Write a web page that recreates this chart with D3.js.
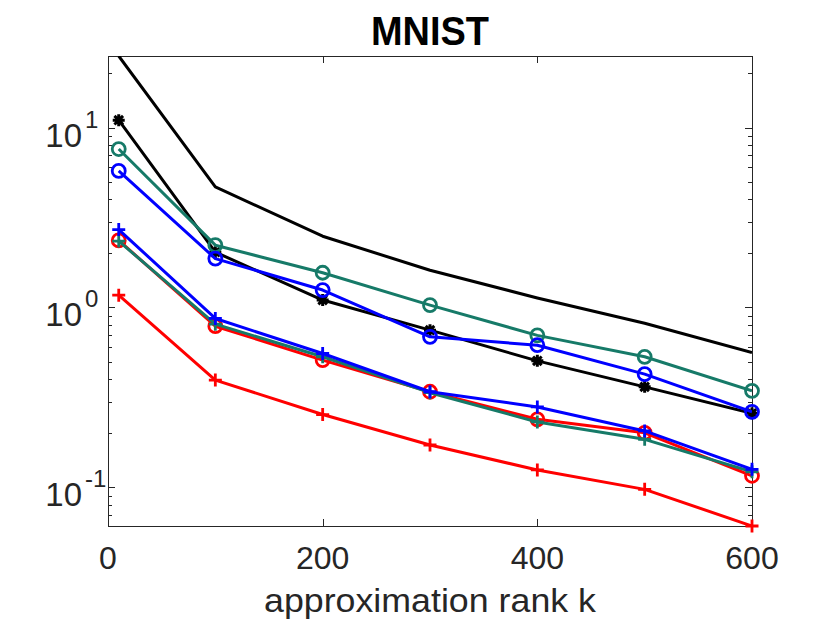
<!DOCTYPE html>
<html>
<head>
<meta charset="utf-8">
<script src="https://cdn.jsdelivr.net/npm/d3@7"></script>
<style>
  body { margin: 0; background: #fff; }
  svg { font-family: "Liberation Sans", Arial, Helvetica, sans-serif; }
</style>
</head>
<body>
<div id="chart_area"></div>
<script>
// data
var ranks = [10, 100, 200, 300, 400, 500, 600];
var xTicks = [0, 200, 400, 600];
var yTicks = [0.1, 1, 10];
var yTickExp = ["-1", "0", "1"];

var blackTop   = [25.0, 4.68, 2.49, 1.61, 1.13, 0.818, 0.562];
var blackStar  = [11.0, 2.03, 1.10, 0.748, 0.505, 0.362, 0.258];
var tealCircle = [7.60, 2.22, 1.56, 1.03, 0.70, 0.532, 0.344];
var blueCircle = [5.74, 1.87, 1.25, 0.687, 0.617, 0.426, 0.263];
var redCircle  = [2.36, 0.787, 0.51, 0.34, 0.239, 0.201, 0.116];
var tealPlus   = [2.34, 0.808, 0.532, 0.336, 0.231, 0.185, 0.122];
var bluePlus   = [2.71, 0.869, 0.555, 0.340, 0.280, 0.206, 0.126];
var redPlus    = [1.17, 0.395, 0.254, 0.172, 0.125, 0.0975, 0.061];

var series = [
  {values: blackTop,   color: "#000000", marker: "none"},
  {values: blackStar,  color: "#000000", marker: "star"},
  {values: tealCircle, color: "#167a68", marker: "circle"},
  {values: blueCircle, color: "#0000ff", marker: "circle"},
  {values: redCircle,  color: "#ff0000", marker: "circle"},
  {values: tealPlus,   color: "#167a68", marker: "plus"},
  {values: bluePlus,   color: "#0000ff", marker: "plus"},
  {values: redPlus,    color: "#ff0000", marker: "plus"}
];

var margin = {top: 56, right: 78, bottom: 97, left: 108};
var frame_width = 830;
var frame_height = 623;
var canvas_width = frame_width - margin.left - margin.right;
var canvas_height = frame_height - margin.top - margin.bottom;

var frame = d3.select("#chart_area").append("svg")
    .attr("width", frame_width)
    .attr("height", frame_height);
var canvas = frame.append("g")
    .attr("transform", "translate(" + margin.left + "," + margin.top + ")");

var xScale = d3.scaleLinear().domain([0, 600]).range([0, canvas_width]);
var yScale = d3.scaleLog().domain([0.061, 25]).range([canvas_height, 0]);

canvas.append("defs").append("clipPath").attr("id", "clip")
  .append("rect").attr("width", canvas_width).attr("height", canvas_height);

// minor ticks 2..9 per decade
var minor = [];
[0.01, 0.1, 1, 10].forEach(function(d) {
  for (var i = 2; i <= 9; i++) {
    var v = d * i;
    if (v >= 0.061 && v <= 25) minor.push(v);
  }
});

var axisColor = "#262626";
var ticks = canvas.append("g").attr("stroke", axisColor).attr("stroke-width", 1);

minor.forEach(function(v) {
  var y = Math.round(yScale(v)) + 0.5;
  ticks.append("line").attr("x1", 0).attr("x2", 4).attr("y1", y).attr("y2", y);
  ticks.append("line").attr("x1", canvas_width - 4).attr("x2", canvas_width).attr("y1", y).attr("y2", y);
});
yTicks.forEach(function(v) {
  var y = Math.round(yScale(v)) + 0.5;
  ticks.append("line").attr("x1", 0).attr("x2", 7).attr("y1", y).attr("y2", y);
  ticks.append("line").attr("x1", canvas_width - 7).attr("x2", canvas_width).attr("y1", y).attr("y2", y);
});
xTicks.forEach(function(v) {
  var x = Math.round(xScale(v)) + 0.5;
  ticks.append("line").attr("x1", x).attr("x2", x).attr("y1", canvas_height).attr("y2", canvas_height - 7);
  ticks.append("line").attr("x1", x).attr("x2", x).attr("y1", 0).attr("y2", 7);
});

// box
canvas.append("rect")
    .attr("x", 0.5).attr("y", 0.5)
    .attr("width", canvas_width).attr("height", canvas_height)
    .attr("fill", "none").attr("stroke", axisColor).attr("stroke-width", 1);

// tick labels
canvas.append("g").selectAll("text").data(xTicks).enter().append("text")
    .attr("x", function(d) { return xScale(d); })
    .attr("y", canvas_height + 43)
    .attr("text-anchor", "middle")
    .attr("font-size", 32)
    .attr("fill", axisColor)
    .text(function(d) { return d; });

var yl = canvas.append("g").selectAll("g").data(yTicks).enter().append("g")
    .attr("transform", function(d) { return "translate(0," + yScale(d) + ")"; });
yl.append("text")
    .attr("x", -26)
    .attr("y", 19)
    .attr("text-anchor", "end")
    .attr("font-size", 33)
    .attr("fill", axisColor)
    .text("10");
yl.append("text")
    .attr("x", -23)
    .attr("y", 0)
    .attr("text-anchor", "start")
    .attr("font-size", 24)
    .attr("fill", axisColor)
    .text(function(d, i) { return yTickExp[i]; });

// lines and markers
var line = d3.line()
    .x(function(d, i) { return xScale(ranks[i]); })
    .y(function(d) { return yScale(d); });

var plotArea = canvas.append("g");
series.forEach(function(s) {
  var g = plotArea.append("g");
  g.append("path")
      .attr("clip-path", "url(#clip)")
      .attr("d", line(s.values))
      .attr("fill", "none")
      .attr("stroke", s.color)
      .attr("stroke-width", 3)
      .attr("stroke-linejoin", "round");
  if (s.marker == "none") return;
  var m = g.selectAll("g").data(s.values).enter().append("g")
      .attr("transform", function(d, i) {
        return "translate(" + xScale(ranks[i]) + "," + yScale(d) + ")";
      });
  if (s.marker == "circle") {
    m.append("circle").attr("r", 6.5)
        .attr("fill", "none").attr("stroke", s.color).attr("stroke-width", 2.8);
  } else if (s.marker == "plus") {
    m.append("path").attr("d", "M-6.5,0H6.5M0,-6.5V6.5")
        .attr("stroke", s.color).attr("stroke-width", 2.8);
  } else if (s.marker == "star") {
    m.append("path").attr("d", "M-6,0H6M0,-6V6M-4.3,-4.3L4.3,4.3M-4.3,4.3L4.3,-4.3")
        .attr("stroke", s.color).attr("stroke-width", 3);
  }
});

// title and x label
frame.append("text")
    .attr("x", margin.left + canvas_width / 2)
    .attr("y", 45)
    .attr("text-anchor", "middle")
    .attr("font-size", 40)
    .attr("font-weight", "bold")
    .attr("textLength", 118)
    .attr("lengthAdjust", "spacingAndGlyphs")
    .text("MNIST");

frame.append("text")
    .attr("x", margin.left + canvas_width / 2)
    .attr("y", 612)
    .attr("text-anchor", "middle")
    .attr("font-size", 34)
    .attr("fill", axisColor)
    .attr("textLength", 332)
    .attr("lengthAdjust", "spacingAndGlyphs")
    .text("approximation rank k");
</script>
</body>
</html>
